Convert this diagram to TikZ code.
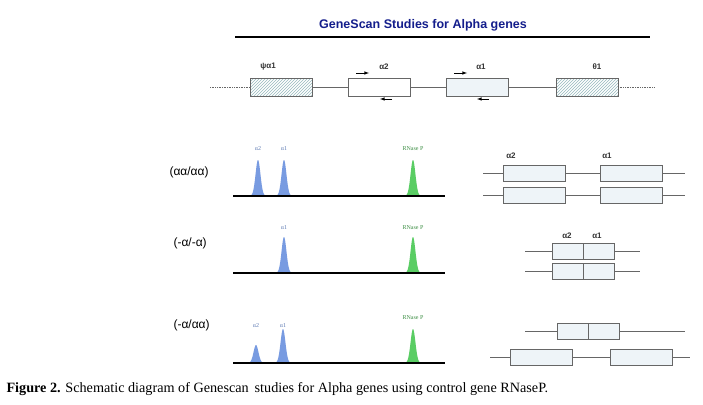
\documentclass[tikz,border=0pt]{standalone}
\usepackage{fontspec}
\setmainfont{Liberation Serif}
\setsansfont{Liberation Sans}
\usetikzlibrary{patterns}
\definecolor{navy}{RGB}{20,30,140}
\definecolor{pblue}{RGB}{120,155,225}
\definecolor{pgreen}{RGB}{90,205,100}
\definecolor{bxfill}{RGB}{238,244,248}
\definecolor{hatchc}{RGB}{150,185,190}
\tikzset{
 gbox/.style={draw=gray!80!black,fill=bxfill,line width=0.7pt},
 hbox/.style={draw=gray!80!black,pattern=north east lines,pattern color=hatchc,line width=0.7pt},
 gline/.style={gray!80!black,line width=0.7pt},
 glab/.style={font=\sffamily\bfseries\fontsize{8}{9}\selectfont,text=black!80},
 plab/.style={font=\fontsize{6}{7}\selectfont},
 geno/.style={font=\sffamily\fontsize{12}{14}\selectfont,anchor=west},
 base/.style={black,line width=1.3pt},
 sarr/.style={-latex,line width=0.6pt}
}
\newcommand{\peak}[4]{% x, baseline y, height, color
 \fill[#4] plot[domain=-10:10,samples=40,smooth] ({#1+\x},{#2-#3*exp(-(\x*\x)/12)}) -- cycle;}
\begin{document}
\begin{tikzpicture}[x=1pt,y=-1pt]
\useasboundingbox[fill=white] (0,0) rectangle (703,404);
\node[font=\sffamily\bfseries\fontsize{12.5}{14}\selectfont,text=navy] (title) at (423,25) {GeneScan Studies for Alpha genes};
\draw[line width=1.3pt] (235,37) -- (650,37);
% gene row
\draw[gline,densely dotted] (210,87) -- (250,87);
\draw[gline,densely dotted] (618,87) -- (655,87);
\draw[gline] (312,87) -- (348,87) (410,87) -- (446,87) (508,87) -- (556,87);
\draw[hbox] (250,78) rectangle (312,96);
\draw[gbox,fill=white] (348,78) rectangle (410,96);
\draw[gbox] (446,78) rectangle (508,96);
\draw[hbox] (556,78) rectangle (618,96);
\node[glab] at (268,67) {ψα1};
\node[glab] at (384,67) {α2};
\node[glab] at (481,67) {α1};
\node[glab] at (597,67) {θ1};
\draw[sarr] (356,73) -- (369,73);
\draw[sarr] (454,73) -- (467,73);
\draw[sarr] (392,99) -- (380,99);
\draw[sarr] (489,99) -- (477,99);
% panel 1
\node[geno] at (166,172) {(αα/αα)};
\peak{258}{196}{36}{pblue}
\peak{284}{196}{36}{pblue}
\peak{413}{196}{36}{pgreen}
\draw[base] (233,196) -- (445,196);
\node[plab,text=pblue!80!black] at (258,149) {α2};
\node[plab,text=pblue!80!black] at (284,149) {α1};
\node[plab,text=pgreen!70!black] at (413,149) {RNase P};
\draw[gline] (483,173) -- (685,173) (483,195) -- (685,195);
\draw[gbox] (503,165) rectangle (565,181);
\draw[gbox] (600,165) rectangle (662,181);
\draw[gbox] (503,187) rectangle (565,203);
\draw[gbox] (600,187) rectangle (662,203);
\node[glab] at (511,156) {α2};
\node[glab] at (607,156) {α1};
% panel 2
\node[geno] at (170,243) {(-α/-α)};
\peak{284}{273}{36}{pblue}
\peak{413}{273}{36}{pgreen}
\draw[base] (233,273) -- (445,273);
\node[plab,text=pblue!80!black] at (284,228) {α1};
\node[plab,text=pgreen!70!black] at (413,228) {RNase P};
\draw[gline] (525,251) -- (640,251) (525,271) -- (640,271);
\draw[gbox] (552,243) rectangle (614,259);
\draw[gbox] (552,263) rectangle (614,279);
\draw[gline] (583,243) -- (583,259) (583,263) -- (583,279);
\node[glab] at (567,236) {α2};
\node[glab] at (597,236) {α1};
% panel 3
\node[geno] at (170,325) {(-α/αα)};
\peak{256}{363}{18}{pblue}
\peak{283}{363}{34}{pblue}
\peak{413}{363}{34}{pgreen}
\draw[base] (233,363) -- (445,363);
\node[plab,text=pblue!80!black] at (256,326) {α2};
\node[plab,text=pblue!80!black] at (283,326) {α1};
\node[plab,text=pgreen!70!black] at (413,318) {RNase P};
\draw[gline] (525,331) -- (685,331) (490,357) -- (690,357);
\draw[gbox] (557,323) rectangle (619,339);
\draw[gline] (588,323) -- (588,339);
\draw[gbox] (510,349) rectangle (572,365);
\draw[gbox] (610,349) rectangle (672,365);
% caption
\node[anchor=west,font=\fontsize{14.2}{16}\selectfont] (cap) at (3,389) {\textbf{Figure 2.} Schematic diagram of Genescan\, studies for Alpha genes using control gene RNaseP.};
\end{tikzpicture}
\end{document}
